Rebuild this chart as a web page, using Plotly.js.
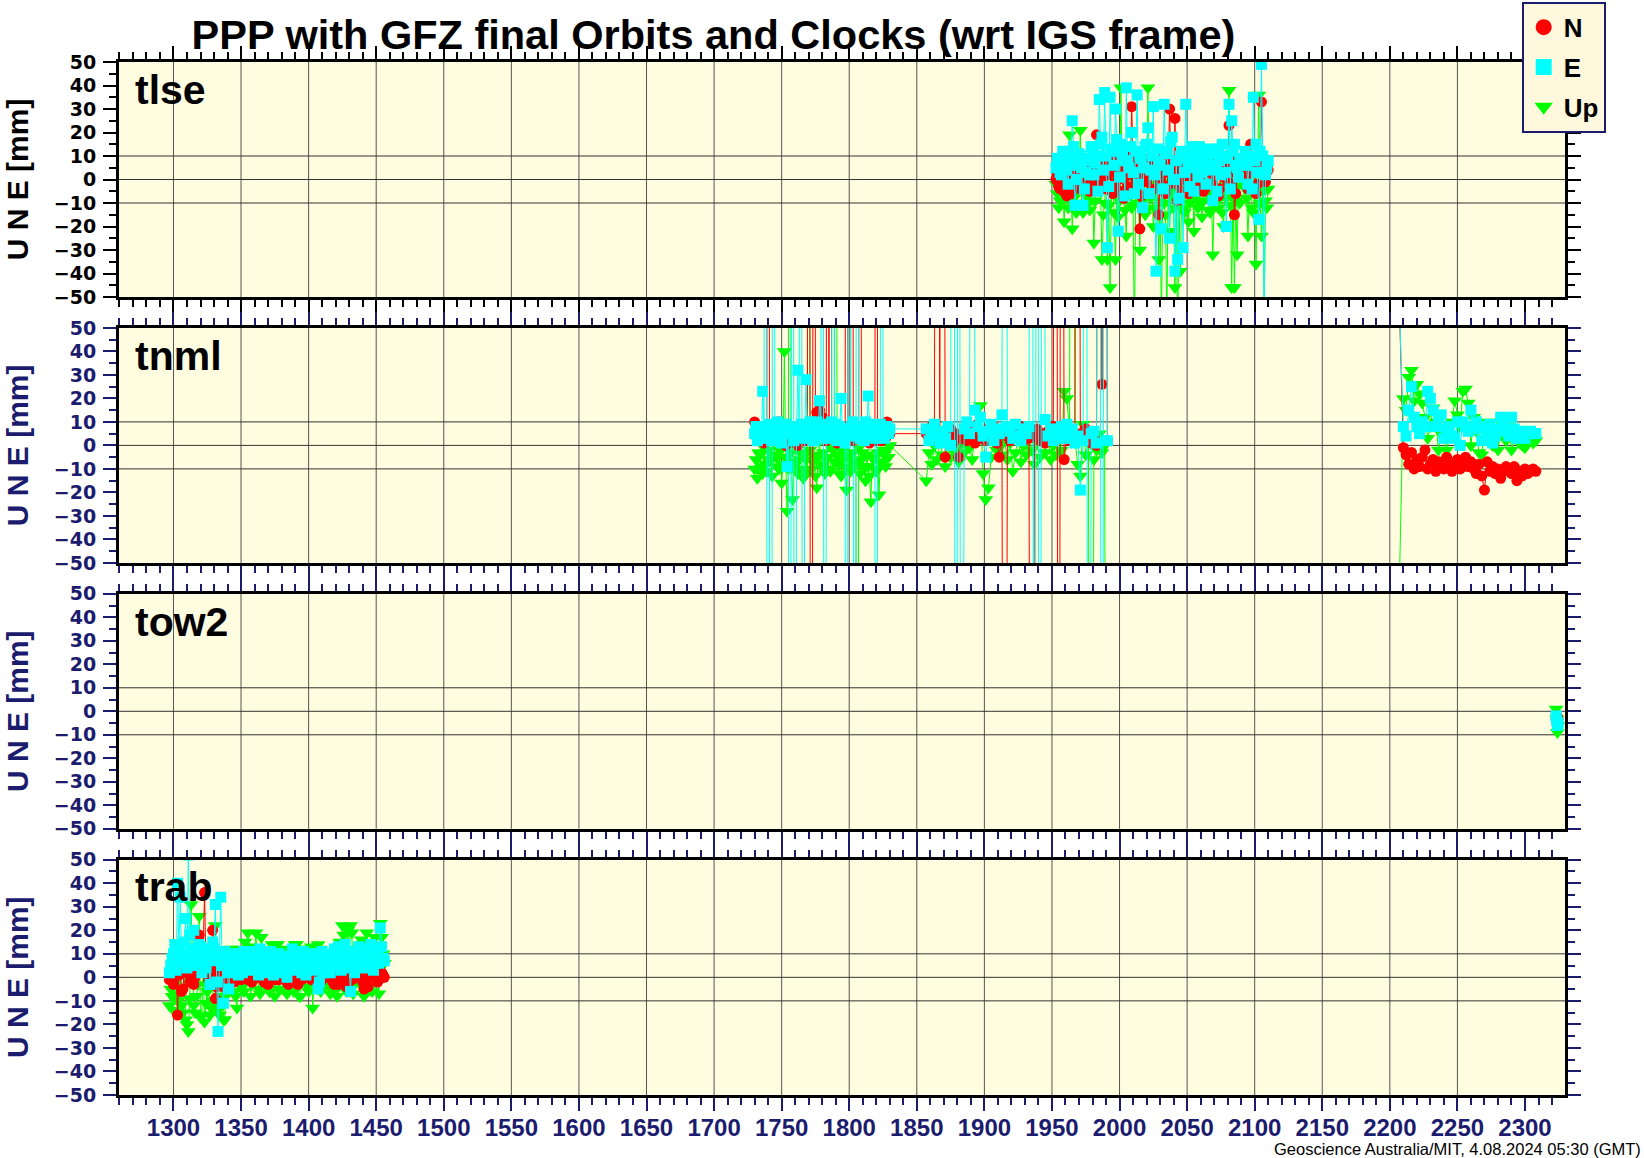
<!DOCTYPE html>
<html><head><meta charset="utf-8">
<script src="https://cdn.plot.ly/plotly-3.0.1.min.js"></script>
<style>html,body{margin:0;padding:0;background:#fff}#chart{width:1644px;height:1158px}</style>
</head><body><div id="chart"></div>
<script>
// ---------------- DATA ----------------
const seriesNames = ['N', 'E', 'Up'];
const stationNames = ['tlse', 'tnml', 'tow2', 'trab'];

// tlse (GPS week, mm)
const tlseWeeks = [1953,1954,1955,1956,1957,1958,1959,1960,1961,1962,1963,1964,1965,1966,1967,1968,1969,1970,1971,1972,1973,1974,1975,1976,1977,1978,1979,1980,1981,1982,1983,1984,1985,1986,1987,1988,1989,1990,1991,1992,1993,1994,1995,1996,1997,1998,1999,2000,2001,2002,2003,2004,2005,2006,2007,2008,2009,2010,2011,2012,2013,2014,2015,2016,2017,2018,2019,2020,2021,2022,2023,2024,2025,2026,2027,2028,2029,2030,2031,2032,2033,2034,2035,2036,2037,2038,2039,2040,2041,2042,2043,2044,2045,2046,2047,2048,2049,2050,2051,2052,2053,2054,2055,2056,2057,2058,2059,2060,2061,2062,2063,2064,2065,2066,2067,2068,2069,2070,2071,2072,2073,2074,2075,2076,2077,2078,2079,2080,2081,2082,2083,2084,2085,2086,2087,2088,2089,2093,2094,2095,2096,2097,2098,2099,2100,2101,2102,2103,2104,2105,2106,2107,2108,2109,2110];
const tlseN = [0,2,-3,-4,2,5,-5,-2,-7,4, 3,-6,-2,1,5,7,1,-3,-4,3, 6,-1,2,5,-1,-5,4,2,8,6, 19,-2,5,9,-3,1,7,-4,2,5, 10,3,-6,-2,4,8,0,-5,8,4, -8,1,3,-3,12,6,31,9,2,0, -4,5,-21,-7,6,3,1,-1,9,7, -5,2,3,-4,7,5,-15,0,2,6, 11,-6,-3,3,30,8,5,1,26,-2, -9,4,4,-5,0,2,6,7,-6,-1, 8,4,2,-3,-2,6,5,1,9,-5, -4,3,3,8,7,-2,-1,2,4,5, -7,-4,6,3,1,7,10,-1,23,4, -3,9,-15,-6,2,3,5, 8,2,-4,-3,15,6,3,4,-6,-2,7,5,33,9,2,-1,6,4];
const tlseE = [5,9,8,3,2,12,10,6,4,-2, 12,8,25,14,-11,0,6,11,10,5, -11,-4,3,9,8,2,14,12,2,7, 10,-5,34,15,18,4,37,10,-29,-3, 35,13,12,6,30,17,-22,1,15,11, 8,-7,39,8,5,14,20,3,-6,12, 36,-2,10,9,-12,5,14,15,22,-6, 4,10,31,2,-39,13,8,6,-21,-4, 32,11,12,4,-25,16,18,0,-39,8, -34,-8,10,12,-29,3,32,9,6,-3, 12,14,-5,5,9,1,14,10,3,7, 11,-2,8,13,12,4,-9,11,6,-5, 13,8,2,15,10,3,-20,9,32,-4, 25,12,15,6,5,1,9, 12,6,-2,10,8,-4,35,8,15,3,-17,12,49,10,-60,2,5,8];
const tlseUp = [-2,-6,-12,-9,4,0,-18,-4,-8,-12, 19,2,-21,-8,-6,-14,5,-2,21,-10, -14,3,-4,-7,-10,-13,6,-1,-27,-9, -3,4,8,-5,-34,-15,-10,-3,-34,-11, -46,-6,2,-14,-34,0,-16,-9,39,-4, -8,-13,-24,2,4,-7,-12,-11,-70,-3, -6,-10,-30,1,-2,-8,-15,-13,39,-2, -8,-6,-20,-12,3,0,-34,-9,-65,-4, -10,-15,-60,-1,-22,-7,-5,-12,-46,-3, -75,-9,-39,-5,-12,-14,2,-2,-18,-10, -8,1,-22,-7,4,-12,-10,-4,-16,-9, 6,-1,-6,-13,-14,-6,-32,-10,-4,-3, -12,-8,2,-14,-20,0,-8,-6,38,-11, -46,-4,-46,-9,-32,-2,-10, -4,-8,-24,-3,8,-12,-14,-6,-36,-1,36,-10,-24,-5,-55,-9,-12,-4];

// tnml (null = data gap)
const tnmlWeeks = [1730,1731,1732,1733,1734,1735,1736,1737,1738,1739,1740,1741,1742,1743,1744,1745,1746,1747,1748,1749,1750,1751,1752,1753,1754,1755,1756,1757,1758,1759,1760,1761,1762,1763,1764,1765,1766,1767,1768,1769,1770,1771,1772,1773,1774,1775,1776,1777,1778,1779,1780,1781,1782,1783,1784,1785,1786,1787,1788,1789,1790,1791,1792,1793,1794,1795,1796,1797,1798,1799,1800,1801,1802,1803,1804,1805,1806,1807,1808,1809,1810,1811,1812,1813,1814,1815,1816,1817,1818,1819,1820,1821,1822,1823,1824,1825,1826,1827,1828,1829,1830,
 1857,1859,1861,1863,1865,1867,1869,1871,1873,1875,1877,1879,1881,1883,1885,1887,1889,1891,1893,1895,1897,1899,1901,1903,1905,1907,1909,1911,1913,1915,1917,1919,1921,1923,1925,1927,1929,1931,1933,1935,1937,1939,1941,1943,1945,1947,1949,1951,1953,1955,1957,1959,1961,1963,1965,1967,1969,1971,1973,1975,1977,1979,1981,1983,1985,1987,1989,1991,
 null,
 2207,2210,2212,2214,2216,2218,2220,2222,2224,2226,2228,2230,2232,2234,2236,2238,2240,2242,2244,2246,2248,2250,2252,2254,2256,2258,2260,2262,2264,2266,2268,2270,2272,2274,2276,2278,2280,2282,2284,2286,2288,2290,2292,2294,2296,2298,2300,2302,2304,2306,2308];
const tnmlN = [10,4,6,2,3,7,8,1,4,5, 500,3,5,8,2,6,7,10,10,2, 3,5,6,0,1,4,4,7,2,3, 5,1,0,6,3,4,6,2,8,5, 500,3,-500,6,500,10,14,8,15,4, 12,6,5,2,500,5,500,3,8,6, 4,1,7,4,2,6,5,3,500,7, 3,5,500,2,6,8,4,3,500,6, 8,4,2,7,5,1,9,4,3,6, 500,2,6,8,2,5,7,3,10,6, 5,
 5,3,8,2,500,6,500,-5,4,7, 1,5,-5,3,6,2,8,4,1,9, 3,6,2,7,4,8,1,-5,6,-500, 4,2,7,3,5,8,2,6,3,-500, 4,7,2,5,1,6,3,8,500,-500, 500,-6,4,2,6,3,500,5,2,7, 3,1,4,0,500,26,500,2,
 null,
 60,-1,-4,-8,-3,-10,-6,-9,-5,-2, -10,-8,-6,-11,-7,-9,-10,-5,-8,-11, -9,-6,-10,-9,-5,-9,-7,-10,-12,-8, -13,-19,-7,-11,-9,-12,-10,-14,-11,-9, -10,-12,-9,-15,-11,-13,-10,-12,-11,-10, -11];
const tnmlE = [5,8,2,6,8,3,23,7,500,4, -500,9,-500,2,500,6,4,10,8,3, 1,7,6,9,-9,5,-500,8,500,2, -500,6,32,4,500,9,-500,3,28,7, 4,10,9,2,2,6,10,4,19,8, 500,3,-500,9,7,5,3,10,500,4, 9,2,5,8,20,6,6,1,-500,7, 500,4,8,10,-500,5,500,8,3,6, 7,2,10,5,21,9,4,7,8,3, -500,6,5,9,500,4,3,8,8,5, 7,
 7,2,5,9,4,1,6,3,8,0, 500,-500,500,-500,7,10,5,500,15,8, 12,4,-5,6,9,2,7,5,13,500, 8,6,3,9,4,2,7,5,8,500, -500,500,-500,500,11,4,7,2,6,3, 8,5,9,3,7,1,4,-19,2,500, -500,5,6,1,500,-500,500,2,
 null,
 60,8,4,15,25,12,8,5,10,8, 23,20,15,8,12,13,3,7,8,4, 3,10,0,10,8,6,15,8,10,7, 2,8,5,9,1,4,7,12,9,6, 4,12,7,3,4,6,3,5,6,5, 5];
const tnmlUp = [-10,-6,-14,-3,-4,-9,-12,-1,-8,-11, -2,-7,-6,-13,3,-4,-5,-9,-10,-2, -16,-8,40,-5,-28,-10,500,-3,-23,-7, -8,-1,-12,-6,-3,-10,-14,-4,-6,-11, 500,-2,-10,-7,-4,-13,-18,-5,2,-8, -9,-3,-12,-6,-5,-10,-11,-1,-2,-7, 500,-4,-8,-12,-13,-2,-6,-9,-19,-5, -4,-11,-10,-3,-7,-8,-500,-1,-12,-6, -3,-9,-15,-4,-9,-13,-24,-5,-6,-10, -11,-3,-21,-7,-8,-2,-4,-9,-2,-5, 0,
 -15,-3,-8,0,-6,3,-4,-9,2,-5, -2,5,-7,1,-3,4,-1,-6,6,2, 17,-12,-23,-18,-5,3,-2,5,-4,2, -6,1,-11,-3,4,-7,0,-4,3,-2, -8,1,-5,2,-3,5,-6,0,-4,4, -2,23,20,6,500,3,-8,-13,9,-4, 1,-500,-6,-2,5,-3,0,-500,
 null,
 -60,20,15,29,32,19,26,22,18,12, 3,8,16,10,-2,5,7,-2,4,10, 19,13,8,23,24,18,0,12,6,-3, -4,8,10,2,0,5,-2,10,4,2, 8,-2,3,6,1,0,-1,4,2,1, 2];

// tow2
const tow2Weeks = [2323, 2323.5, 2324, 2324.5];
const tow2N = [-3, -2, -4, -3];
const tow2E = [-2, -4, -6, -5];
const tow2Up = [1, -3, -9, -6];

// trab
const trabWeeks = [1297,1298,1299,1300,1301,1302,1303,1304,1305,1306,1307,1308,1309,1310,1311,1312,1313,1314,1315,1316,1317,1318,1319,1320,1321,1322,1323,1324,1325,1326,1327,1328,1329,1330,1331,1332,1333,1334,1335,1336,1337,1338,1339,1340,1341,1342,1343,1344,1345,1346,1347,1348,1349,1350,1351,1352,1353,1354,1355,1356,1357,1358,1359,1360,1361,1362,1363,1364,1365,1366,1367,1368,1369,1370,1371,1372,1373,1374,1375,1376,1377,1378,1379,1380,1381,1382,1383,1384,1385,1386,1387,1388,1389,1390,1391,1392,1393,1394,1395,1396,1397,1398,1399,1400,1401,1402,1403,1404,1405,1406,1407,1408,1409,1410,1411,1412,1413,1414,1415,1416,1417,1418,1419,1420,1421,1422,1423,1424,1425,1426,1427,1428,1429,1430,1431,1432,1433,1434,1435,1436,1437,1438,1439,1440,1441,1442,1443,1444,1445,1446,1447,1448,1449,1450,1451,1452,1453,1454,1455,1456];
const trabN = [-1,2,3,-3,0,4,-16,1,5,-6, -5,3,2,6,8,-2,4,5,-3,0, 6,8,18,3,9,12,36,6,3,-1, 7,4,20,2,-9,-4,2,5,6,1, -4,3,3,-2,1,4,5,0,-2,6, 4,2,0,-1,3,5,6,1,-1,3, 2,-2,4,4,0,2,5,0,2,5, -2,1,4,-3,1,3,3,0,-1,4, 5,-1,2,2,0,5,4,-2,-3,3, 2,0,5,4,1,-3,3,2,-1,5, 4,0,2,3,0,-1,5,4,1,2, 3,-3,-2,1,4,5,1,0,3,3, 0,-2,-3,4,2,-3,4,1,-2,3, 1,-4,-4,2,3,-1,0,4,2,0, 5,3,1,-2,-5,1,3,-4,0,2, 2,0,4,3,-2,-1,3,2,1,0];
const trabE = [2,5,8,10,14,3,40,12,34,7, 10,15,25,4,52,18,12,8,20,11, 5,6,14,13,2,9,8,4,12,10, -3,7,15,12,31,-2,-23,9,34,5, -11,11,6,2,-5,8,8,4,3,10, 10,1,6,7,2,11,9,5,4,9, 11,3,5,10,7,6,1,12,9,2, 6,8,3,5,10,11,5,1,8,7, 2,10,9,4,6,9,3,0,8,6, 5,12,10,3,4,8,7,5,2,11, 9,1,5,7,8,10,3,4,10,8, -5,-2,6,11,2,5,9,7,4,2, 7,10,12,6,5,13,10,3,6,9, 14,11,8,4,-6,8,11,2,6,10, 13,7,9,12,4,5,12,9,7,14, 10,3,6,11,9,6,21,13,8,7];
const trabUp = [-12,-5,-8,-14,-3,0,-10,-7,2,-12, -15,4,-18,-20,-23,-9,31,10,-12,-15, -8,-3,26,-17,-16,6,-19,-11,-6,-4, -16,-13,-10,8,22,-10,-14,-16,-8,3, -18,-18,5,-7,-4,9,12,2,-6,-8, -13,12,8,1,-4,-6,15,7,19,13, -8,-3,3,10,19,4,-5,-7,17,11, -2,2,10,-4,-6,9,14,0,-8,14, 14,-5,4,8,-5,3,12,-7,-2,11, 9,1,-6,14,14,-4,-8,-8,6,9, 12,2,-4,-6,10,13,-13,-2,3,7, 14,12,-6,-5,8,10,-3,1,10,-7, -5,8,6,3,-8,-4,15,12,22,18, -4,-6,20,10,22,19,-7,-3,12,8, -2,2,16,14,-8,-6,19,11,4,-4, -6,13,17,3,2,-7,23,17,10,6];

// axis / grid values
const xRange = [1259.7, 2329.6];
const yRange = [-50, 50];
const gridX = [1300,1350,1400,1450,1500,1550,1600,1650,1700,1750,1800,1850,1900,1950,2000,2050,2100,2150,2200,2250];
const gridY = [-10, 0, 10];
const titleText = 'PPP with GFZ final Orbits and Clocks (wrt IGS frame)';
const yTitleText = 'U N E [mm]';
const footerText = 'Geoscience Australia/MIT, 4.08.2024 05:30 (GMT)';

// ---------------- STYLE ----------------
const navy = '#1c1c6e';
const colors = {N: '#ff0000', E: '#00ffff', Up: '#00ff00'};
const symbols = {N: 'circle', E: 'square', Up: 'triangle-down'};
const sizes = {N: 11, E: 11, Up: 13};
const legendRank = {N: 1, E: 2, Up: 3};
const domains = [[0.7725, 1.0], [0.5151, 0.7426], [0.2577, 0.4852], [0.0, 0.2278]];
const HB = 'Liberation Sans, Arial, Helvetica, sans-serif';

const panels = [
  {x: tlseWeeks, N: tlseN, E: tlseE, Up: tlseUp},
  {x: tnmlWeeks, N: tnmlN, E: tnmlE, Up: tnmlUp},
  {x: tow2Weeks, N: tow2N, E: tow2E, Up: tow2Up},
  {x: trabWeeks, N: trabN, E: trabE, Up: trabUp}
];

const traces = [];
const layout = {
  width: 1644, height: 1158,
  paper_bgcolor: '#ffffff', plot_bgcolor: '#fffde0',
  margin: {l: 119, r: 79, t: 62, b: 63, pad: 0, autoexpand: false},
  showlegend: true,
  hovermode: false,
  title: {text: titleText, font: {family: HB, size: 41.5, color: '#000', weight: 'bold'},
          x: 0.434, xref: 'container', xanchor: 'center', y: 0.970, yref: 'container', yanchor: 'middle'},
  legend: {xref: 'container', yref: 'container', x: 0.9256, xanchor: 'left', y: 0.9985, yanchor: 'top',
           bgcolor: '#fff8dc', bordercolor: navy, borderwidth: 2,
           font: {family: HB, size: 26, color: '#000', weight: 'bold'}, itemsizing: 'trace',
           traceorder: 'grouped', tracegroupgap: 3},
  shapes: [], annotations: []
};

panels.forEach((p, i) => {
  const sfx = i === 0 ? '' : String(i + 1);
  const tc = i === 0 ? '#000' : navy;
  ['Up', 'N', 'E'].forEach(s => {
    traces.push({type: 'scatter', mode: 'lines+markers', x: p.x, y: p[s], xaxis: 'x' + sfx, yaxis: 'y' + sfx,
      showlegend: false, connectgaps: false, hoverinfo: 'skip',
      line: {color: colors[s], width: 1},
      marker: {symbol: symbols[s], size: sizes[s], color: colors[s], line: {width: 0}}});
  });
  layout['xaxis' + sfx] = {
    domain: [0, 1], anchor: 'y' + sfx, range: xRange, fixedrange: true,
    tickmode: 'linear', tick0: 1300, dtick: 50,
    ticks: 'outside', ticklen: 13, tickwidth: 2, tickcolor: tc,
    showticklabels: i === 3, ticklabelstandoff: -4,
    tickfont: {family: HB, size: 24, color: navy, weight: 'bold'},
    showline: true, linecolor: '#000', linewidth: 3, mirror: 'ticks',
    showgrid: false, zeroline: false,
    minor: {tickmode: 'linear', tick0: 1300, dtick: 10, ticks: 'outside', ticklen: 7, tickwidth: 2, tickcolor: tc, showgrid: false}
  };
  layout['yaxis' + sfx] = {
    domain: domains[i], anchor: 'x' + sfx, range: yRange, fixedrange: true,
    tickmode: 'linear', tick0: 0, dtick: 10,
    ticks: 'outside', ticklen: 13, tickwidth: 2, tickcolor: tc, ticklabelstandoff: 3,
    tickfont: {family: 'DejaVu Sans, sans-serif', size: 19, color: tc, weight: 'bold'},
    showline: true, linecolor: '#000', linewidth: 3, mirror: 'ticks',
    showgrid: false, zeroline: false,
    minor: {tickmode: 'linear', tick0: 0, dtick: 5, ticks: 'outside', ticklen: 7, tickwidth: 2, tickcolor: tc, showgrid: false}
  };
  gridX.forEach(gx => layout.shapes.push({type: 'line', layer: 'below', xref: 'x' + sfx, yref: 'y' + sfx + ' domain',
    x0: gx, x1: gx, y0: 0, y1: 1, line: {color: '#555', width: 1}}));
  gridY.forEach(gy => layout.shapes.push({type: 'line', layer: 'below', xref: 'x' + sfx + ' domain', yref: 'y' + sfx,
    x0: 0, x1: 1, y0: gy, y1: gy, line: {color: '#333', width: 1}}));
  layout.annotations.push({text: stationNames[i], xref: 'x' + sfx + ' domain', yref: 'y' + sfx + ' domain',
    x: 0.0097, xanchor: 'left', y: 0.882, yanchor: 'middle', showarrow: false,
    font: {family: HB, size: 41, color: '#000', weight: 'bold'}});
  // y-axis title
  layout.annotations.push({text: yTitleText, xref: 'paper', yref: 'y' + sfx + ' domain',
    x: -0.0700, xanchor: 'center', y: 0.5, yanchor: 'middle', textangle: -90, showarrow: false,
    font: {family: HB, size: 30, color: tc, weight: 'bold'}});
});

// legend entries (no drawn points: a single gap value)
seriesNames.forEach(s => traces.push({type: 'scatter', mode: 'markers', x: [null], y: [null], name: s, showlegend: true,
  legendrank: legendRank[s], legendgroup: 'g' + s, hoverinfo: 'skip',
  marker: {symbol: symbols[s], size: 20, color: colors[s], line: {width: 0}}}));

layout.annotations.push({text: footerText, xref: 'paper', yref: 'paper', x: 1.054, xanchor: 'right',
  y: -0.052, yanchor: 'middle', showarrow: false, font: {family: HB, size: 16.5, color: '#000'}});

Plotly.newPlot('chart', traces, layout, {staticPlot: true, displayModeBar: false});
</script>
</body></html>
